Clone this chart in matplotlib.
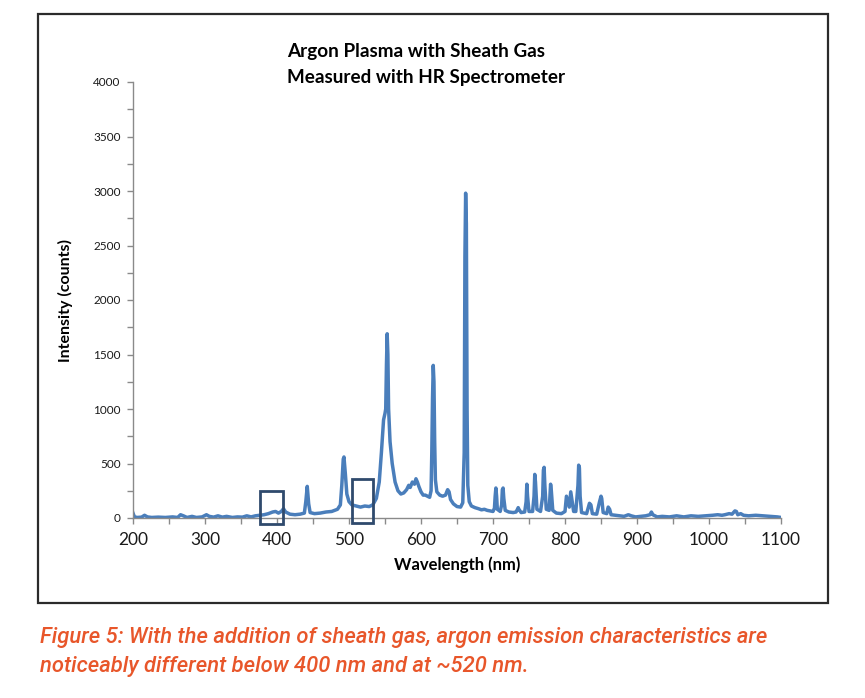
import matplotlib
matplotlib.use("Agg")
import matplotlib.pyplot as plt
from matplotlib.patches import Rectangle
from matplotlib.ticker import MultipleLocator

# ---- data ----
wavelength = [200, 202, 206, 212, 216, 220, 226, 235, 245, 255, 262, 266, 270, 275, 282, 288,
              296, 302, 306, 312, 318, 324, 330, 338, 345, 352, 358, 364, 370, 376, 382, 388,
              394, 398, 402, 406, 409, 412, 418, 425, 432, 438, 440, 442, 444, 446, 452, 460,
              468, 476, 484, 488, 490, 492, 493, 495, 497, 500, 504, 510, 516, 522, 528, 533,
              538, 542, 545, 548, 550, 551, 552, 553, 554, 555, 557, 560, 564, 568, 572, 576,
              580, 583, 585, 588, 591, 593, 595, 597, 600, 603, 606, 609, 612, 614, 615, 616,
              617, 618, 619, 620, 622, 626, 630, 634, 637, 639, 641, 645, 650, 655, 658, 660,
              661, 662, 663, 664, 665, 667, 670, 675, 680, 684, 688, 692, 696, 700, 702, 703,
              704, 705, 706, 710, 712, 713, 714, 715, 717, 722, 728, 732, 734, 735, 736, 739,
              744, 746, 747, 748, 750, 755, 757, 758, 759, 761, 766, 769, 770, 771, 772, 774,
              778, 780, 781, 783, 788, 795, 800, 802, 804, 806, 808, 810, 812, 815, 818, 819,
              820, 821, 823, 830, 834, 836, 838, 844, 848, 850, 851, 853, 858, 860, 862, 864,
              870, 876, 882, 888, 892, 898, 905, 912, 918, 920, 922, 928, 935, 945, 955, 965,
              975, 985, 995, 1005, 1012, 1018, 1022, 1028, 1032, 1036, 1038, 1040, 1044, 1048,
              1055, 1065, 1075, 1085, 1095, 1100]
intensity = [45, 10, 5, 8, 25, 10, 5, 8, 5, 10, 5, 30, 20, 5, 15, 5,
             10, 30, 15, 8, 20, 8, 15, 5, 10, 8, 20, 10, 20, 25, 30, 40,
             55, 60, 45, 60, 85, 55, 35, 30, 35, 45, 150, 290, 130, 50, 40, 45,
             55, 60, 80, 120, 300, 540, 560, 400, 220, 150, 120, 110, 100, 110, 105, 120,
             180, 330, 600, 900, 960, 1000, 1400, 1690, 1500, 1000, 700, 500, 330, 250, 220, 230,
             260, 300, 280, 330, 310, 360, 330, 290, 240, 210, 210, 200, 190, 250, 600, 1100,
             1400, 1250, 700, 350, 240, 210, 200, 210, 260, 240, 170, 130, 105, 100, 140, 600,
             2400, 2980, 2700, 1000, 300, 150, 110, 95, 85, 75, 80, 70, 65, 60, 90, 200,
             275, 200, 80, 60, 120, 260, 275, 180, 70, 55, 50, 55, 80, 95, 80, 50,
             55, 150, 310, 200, 60, 60, 200, 400, 330, 80, 60, 200, 440, 465, 300, 80,
             70, 310, 250, 70, 45, 40, 60, 200, 150, 100, 240, 150, 60, 60, 300, 485,
             460, 200, 50, 40, 135, 120, 40, 35, 150, 200, 180, 50, 40, 100, 80, 30,
             25, 20, 15, 30, 20, 10, 15, 20, 30, 55, 30, 10, 15, 10, 20, 10,
             20, 15, 20, 25, 30, 25, 30, 40, 35, 65, 60, 30, 40, 25,
             20, 25, 20, 15, 10, 5]

# highlight boxes: (x0, x1, y0, y1) in data units
box_x0 = [377, 504]
box_x1 = [409, 534]
box_y0 = [-55, -45]
box_y1 = [250, 358]

title_lines = ["Argon Plasma with Sheath Gas", "Measured with HR Spectrometer"]
xlabel = "Wavelength (nm)"
ylabel = "Intensity (counts)"
caption = ("Figure 5: With the addition of sheath gas, argon emission characteristics are\n"
           "noticeably different below 400 nm and at ~520 nm.")

FONT = "Lato"

fig = plt.figure(figsize=(8.65, 6.98), dpi=100)
fig.patch.set_facecolor("white")

# outer frame
fig.add_artist(Rectangle((38 / 865, 1 - 603 / 698), 790 / 865, 589 / 698,
                         transform=fig.transFigure, fill=False,
                         edgecolor="#2b2b2b", linewidth=1.6))

ax = fig.add_axes([133 / 865, 1 - 518 / 698, (781 - 133) / 865, (518 - 82) / 698])
ax.plot(wavelength, intensity, color="#4a7ebb", linewidth=2.5, solid_joinstyle="round")
ax.set_xlim(200, 1100)
ax.set_ylim(0, 4000)

for x0, x1, y0, y1 in zip(box_x0, box_x1, box_y0, box_y1):
    ax.add_patch(Rectangle((x0, y0), x1 - x0, y1 - y0, fill=False,
                           edgecolor="#2f4a6d", linewidth=2.0, clip_on=False, zorder=5))

for s in ["top", "right"]:
    ax.spines[s].set_visible(False)
for s in ["left", "bottom"]:
    ax.spines[s].set_color("#8a8a8a")
    ax.spines[s].set_linewidth(1.0)

ax.xaxis.set_major_locator(MultipleLocator(100))
ax.xaxis.set_minor_locator(MultipleLocator(50))
ax.yaxis.set_major_locator(MultipleLocator(500))
ax.yaxis.set_minor_locator(MultipleLocator(250))
ax.tick_params(axis="both", which="both", direction="out", color="#8a8a8a", length=4, width=1)
ax.tick_params(axis="x", which="major", labelsize=12.5, pad=6)
ax.tick_params(axis="y", which="major", labelsize=8.5, pad=5)
for lab in ax.get_xticklabels() + ax.get_yticklabels():
    lab.set_fontfamily(FONT)
    lab.set_color("#1a1a1a")

ax.set_xlabel(xlabel, fontfamily=FONT, fontweight="bold", fontsize=12, labelpad=6)
ax.set_ylabel(ylabel, fontfamily=FONT, fontweight="bold", fontsize=11.5, labelpad=3)
ax.yaxis.set_label_coords((73 - 133) / (781 - 133), 0.5)

fig.text(287 / 865, 1 - 52 / 698, title_lines[0], ha="left", va="center",
         fontfamily=FONT, fontweight="bold", fontsize=13.6)
fig.text(287 / 865, 1 - 77 / 698, title_lines[1], ha="left", va="center",
         fontfamily=FONT, fontweight="bold", fontsize=13.6)

fig.text(40 / 865, 1 - 652 / 698, caption, ha="left", va="center",
         fontfamily="Roboto", fontstyle="italic", fontweight="medium",
         fontsize=15.8, color="#e8562a", linespacing=1.45)

fig.savefig("out.png", dpi=100)
